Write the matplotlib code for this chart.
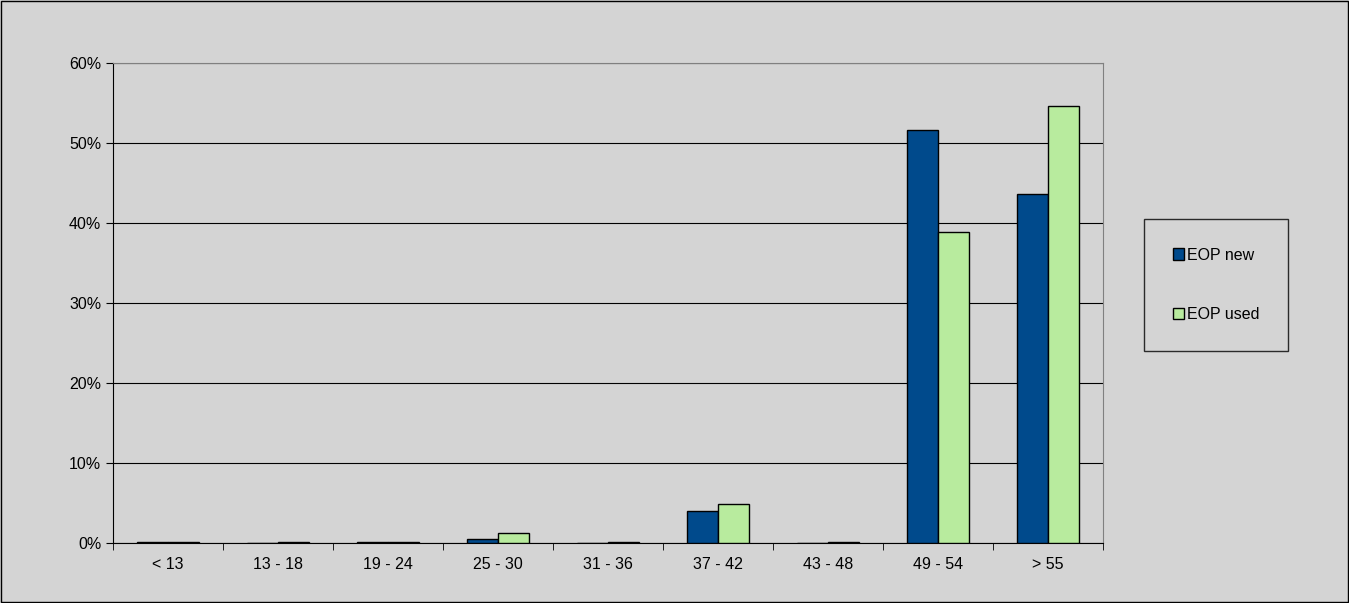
import matplotlib.pyplot as plt
import numpy as np

categories = ["< 13", "13 - 18", "19 - 24", "25 - 30", "31 - 36", "37 - 42", "43 - 48", "49 - 54", "> 55"]
eop_new = [0.1, 0.0, 0.1, 0.5, 0.05, 4.0, 0.05, 51.6, 43.6]
eop_used = [0.1, 0.1, 0.1, 1.2, 0.15, 4.9, 0.1, 38.9, 54.6]

bg = "#d4d4d4"
fig = plt.figure(figsize=(13.49, 6.03), dpi=100, facecolor=bg)
fig.patches.append(plt.Rectangle((0.001, 0.001), 0.998, 0.997, transform=fig.transFigure,
                                 fill=False, edgecolor="black", linewidth=1))
ax = fig.add_axes([113/1349, 1-543/603, 990/1349, 480/603], facecolor=bg)
x = np.arange(len(categories))
w = 0.28
ax.bar(x - w/2, eop_new, w, color="#004a8c", edgecolor="black", linewidth=1, label="EOP new", zorder=3)
ax.bar(x + w/2, eop_used, w, color="#b8eb9e", edgecolor="black", linewidth=1, label="EOP used", zorder=3)
ax.set_xlim(-0.5, len(categories) - 0.5)
ax.set_ylim(0, 60)
ax.set_yticks(range(0, 61, 10))
ax.set_yticklabels([f"{v}%" for v in range(0, 61, 10)], fontsize=11.5, family="Liberation Sans")
ax.set_xticks(x)
ax.set_xticklabels(categories, fontsize=11.5, family="Liberation Sans")
ax.set_xticks(np.arange(-0.5, len(categories)), minor=True)
ax.tick_params(axis="x", which="major", length=0, pad=10)
ax.tick_params(axis="x", which="minor", length=5, direction="out")
ax.tick_params(axis="y", length=5, direction="out")
ax.yaxis.grid(True, color="black", linewidth=0.8, zorder=0)
for s in ["top", "right"]:
    ax.spines[s].set_color("#808080")
leg = fig.legend(loc="center", bbox_to_anchor=(1216/1349, 1-285/603), frameon=True,
                 fancybox=False, edgecolor="black", facecolor=bg, handlelength=0.7,
                 handletextpad=0.2, labelspacing=2.8, borderpad=1.8,
                 prop={"family": "Liberation Sans", "size": 11.5})
plt.savefig("out.png", dpi=100, facecolor=bg)
